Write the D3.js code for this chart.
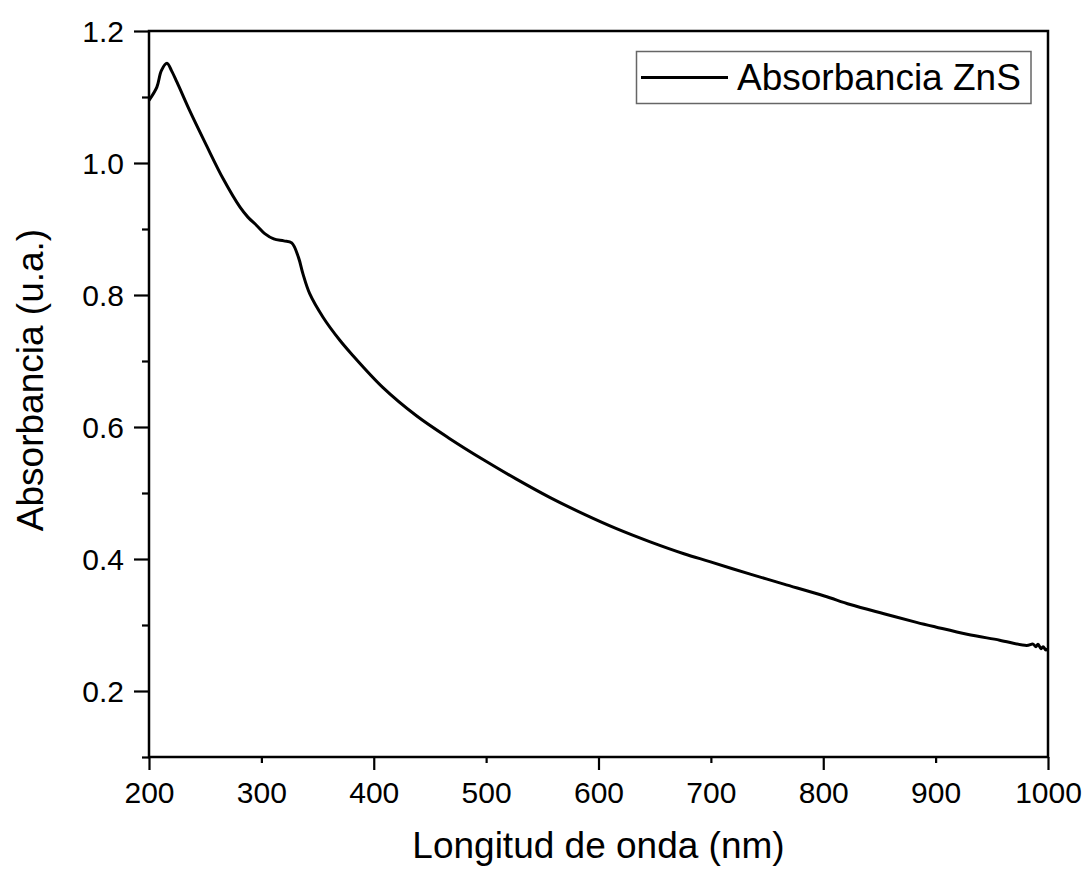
<!DOCTYPE html>
<html>
<head>
<meta charset="utf-8">
<script src="https://cdn.jsdelivr.net/npm/d3@7"></script>
<style>
  body { margin: 0; background: #fff; }
  svg { display: block; font-family: "Liberation Sans", Arial, sans-serif; }
</style>
</head>
<body>
<svg id="chart" width="1085" height="869"></svg>
<script>
// wavelength (nm) and absorbance
const wavelength = [200, 207, 211, 216, 220, 225, 236, 251, 266, 281, 288, 296, 303, 311, 320, 327, 333, 337, 343, 355, 370, 380,
  408, 438, 468, 498, 527, 557, 587, 616, 646, 676, 699, 735, 765, 801, 824, 854, 883, 900, 928, 957, 981,
  986.7, 989.3, 991.1, 993.8, 995.6, 998.2, 1000]
const absorbance = [1.095, 1.115, 1.140, 1.151, 1.140, 1.122, 1.080, 1.027, 0.976, 0.933, 0.918, 0.905, 0.893, 0.885, 0.882, 0.879, 0.857, 0.832, 0.802, 0.766, 0.731, 0.711,
  0.660, 0.617, 0.582, 0.550, 0.521, 0.493, 0.468, 0.446, 0.426, 0.408, 0.396, 0.377, 0.362, 0.344, 0.331, 0.317, 0.304, 0.297, 0.286, 0.277, 0.269,
  0.271, 0.267, 0.271, 0.264, 0.267, 0.262, 0.264]

const xTicks = [200, 300, 400, 500, 600, 700, 800, 900, 1000]
const yMajor = [0.2, 0.4, 0.6, 0.8, 1.0, 1.2]
const yMinor = [0.1, 0.3, 0.5, 0.7, 0.9, 1.1]
const seriesName = 'Absorbancia ZnS'

const margin = {left: 149, top: 31, right: 1048, bottom: 757}
const svg = d3.select('#chart')

const x = d3.scaleLinear().domain([200, 1000]).range([margin.left, margin.right])
const y = d3.scaleLinear().domain([0.1, 1.2]).range([margin.bottom, margin.top])

// x axis: long ticks every 200, short in between
const gx = svg.append('g')
  .attr('transform', `translate(0,${margin.bottom})`)
  .call(d3.axisBottom(x).tickValues(xTicks).tickSize(13).tickFormat(d3.format('d')))
gx.select('.domain').remove()
gx.selectAll('.tick line')
  .attr('stroke-width', 2.2)
  .attr('y2', (d) => (d % 200 === 0 ? 13 : 6))
gx.selectAll('.tick text')
  .attr('y', 46).attr('dy', 0)
  .style('font-size', '30px').attr('fill', '#000')

// y axis: minor and major ticks
const gyMinor = svg.append('g')
  .attr('transform', `translate(${margin.left},0)`)
  .call(d3.axisLeft(y).tickValues(yMinor).tickSize(7).tickFormat(''))
gyMinor.select('.domain').remove()
gyMinor.selectAll('.tick line').attr('stroke-width', 2.2)

const gy = svg.append('g')
  .attr('transform', `translate(${margin.left},0)`)
  .call(d3.axisLeft(y).tickValues(yMajor).tickSize(15).tickFormat(d3.format('.1f')))
gy.select('.domain').remove()
gy.selectAll('.tick line').attr('stroke-width', 2.2)
gy.selectAll('.tick text')
  .attr('x', -25).attr('dy', '0.35em')
  .style('font-size', '30px').attr('fill', '#000')

// frame
svg.append('rect')
  .attr('x', margin.left).attr('y', margin.top)
  .attr('width', margin.right - margin.left).attr('height', margin.bottom - margin.top)
  .attr('fill', 'none').attr('stroke', '#000').attr('stroke-width', 2.5)

// spectrum
const points = wavelength.map((w, i) => [w, absorbance[i]])
const line = d3.line()
  .x((d) => x(d[0]))
  .y((d) => y(d[1]))
  .curve(d3.curveCatmullRom.alpha(0.5))
svg.append('path')
  .datum(points)
  .attr('d', line)
  .attr('fill', 'none')
  .attr('stroke', '#000')
  .attr('stroke-width', 3)
  .attr('stroke-linejoin', 'round')

// axis titles
svg.append('text')
  .attr('x', (margin.left + margin.right) / 2).attr('y', 858)
  .attr('text-anchor', 'middle')
  .style('font-size', '37px')
  .text('Longitud de onda (nm)')

svg.append('text')
  .attr('transform', 'translate(43,380) rotate(-90)')
  .attr('text-anchor', 'middle')
  .style('font-size', '37px')
  .text('Absorbancia (u.a.)')

// legend
const legend = svg.append('g')
legend.append('rect')
  .attr('x', 636.5).attr('y', 51.5).attr('width', 394.5).attr('height', 52)
  .attr('fill', '#fff').attr('stroke', '#666').attr('stroke-width', 1.5)
legend.append('line')
  .attr('x1', 641).attr('x2', 728).attr('y1', 77.5).attr('y2', 77.5)
  .attr('stroke', '#000').attr('stroke-width', 3)
legend.append('text')
  .attr('x', 737).attr('y', 90)
  .style('font-size', '37px')
  .text(seriesName)
</script>
</body>
</html>
